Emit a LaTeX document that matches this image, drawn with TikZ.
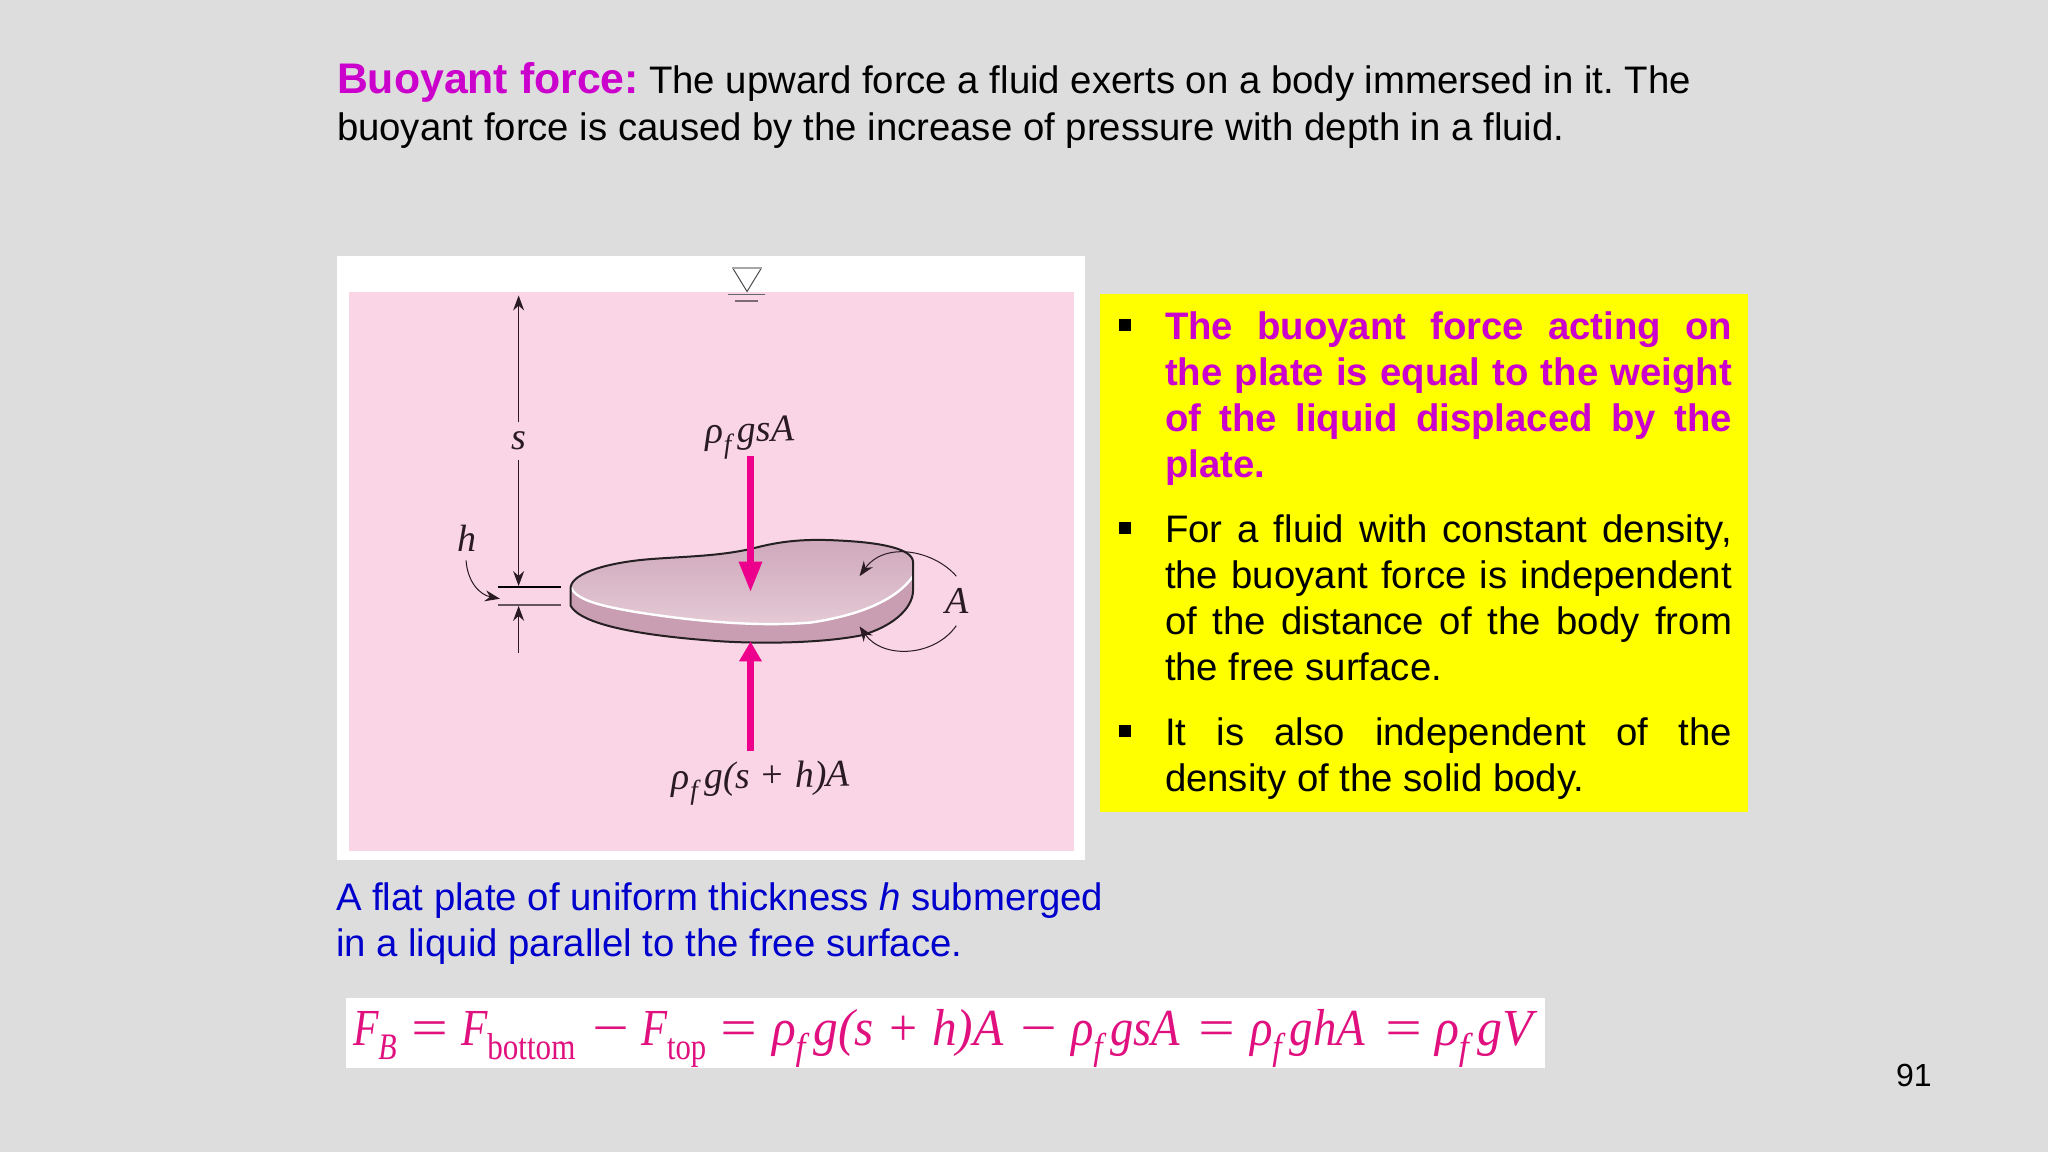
\documentclass[tikz,border=0pt]{standalone}
\usepackage{fontspec}
\usepackage{graphicx}
\setmainfont{Liberation Sans}
\newfontfamily\ser{Liberation Serif}
\usetikzlibrary{arrows.meta}
\frenchspacing
\definecolor{bg}{HTML}{DDDDDD}
\definecolor{tank}{HTML}{F9D5E5}
\definecolor{mag}{HTML}{CC00CC}
\definecolor{blu}{HTML}{0000CC}
\definecolor{yel}{HTML}{FFFF00}
\definecolor{hot}{HTML}{EC008C}
\definecolor{eqc}{HTML}{E0107F}
\definecolor{ink}{HTML}{2A1A22}
\definecolor{platetop}{HTML}{CFA9BC}
\definecolor{platelow}{HTML}{E6CBD6}
\definecolor{plateside}{HTML}{C99DB2}
\newcommand{\bodyfont}{\fontsize{19.17pt}{23pt}\selectfont}
\newcommand{\lowidx}[1]{\raisebox{-.28em}{\scalebox{.72}{#1}}}
\newcommand{\jline}{\linebreak[4]}
\newcommand{\eqbit}[2]{\scalebox{#1}[1]{\ser\itshape\fontsize{26pt}{26pt}\selectfont #2}}
\tikzset{
  txt/.style={anchor=base west,inner sep=0pt,outer sep=0pt},
  lab/.style={inner sep=0pt,outer sep=0pt,text=ink,font=\ser\itshape\fontsize{19pt}{19pt}\selectfont},
  thin dim/.style={draw=ink,line width=.5pt},
  tipk/.style={-{Stealth[length=7.5pt,width=5.5pt]}},
  forcedown/.style={draw=hot,line width=3.5pt,-{Triangle[length=15.4pt,width=10.8pt]}},
  forceup/.style={draw=hot,line width=3.5pt,-{Triangle[length=10pt,width=10.8pt]}},
  bul/.style={fill=black,minimum size=6pt,inner sep=0pt,outer sep=0pt,anchor=center},
  para/.style={txt,font=\bodyfont},
  eqp/.style={txt,text=eqc},
}
\begin{document}
\begin{tikzpicture}[x=.5pt,y=-.5pt]
\useasboundingbox (0,0) rectangle (2048,1152);
\fill[bg] (0,0) rectangle (2048,1152);

% heading
\node[txt,font=\fontsize{21.4pt}{25pt}\selectfont\bfseries,text=mag] (head) at (337,93) {Buoyant force:};
\node[txt,font=\bodyfont] (headb) at (649,93) {The upward force a fluid exerts on a body immersed in it. The};
\node[txt,font=\bodyfont] (headc) at (337,140) {buoyant force is caused by the increase of pressure with depth in a fluid.};

% picture panel
\fill[white] (337.4,256) rectangle (1085,860);
\begin{scope}[shift={(330,250)},x=.2456pt,y=-.1977pt]
  \fill[tank] (39,106) rectangle (1515,1519);
  % free surface symbol
  \fill[white] (820,45) -- (878,45) -- (849,105) -- cycle;
  \draw[black!70,line width=.5pt] (820,46) -- (849,105) -- (878,46);
  \draw[black!35,line width=1.1pt] (818,45) -- (880,45);
  \draw[black!60,line width=.6pt] (810,112) -- (886,112);
  \draw[black!50!tank,line width=.9pt] (824,128) -- (872,128);
  % plate
  \coordinate (pL) at (490,852);
  \coordinate (pR) at (1187,790);
  \fill[plateside] (pL) -- (490,900) .. controls (510,945) and (620,975) .. (800,990)
     .. controls (900,997) and (1010,992) .. (1080,975)
     .. controls (1140,955) and (1187,910) .. (1187,860) -- (pR) -- cycle;
  \shade[top color=platetop,bottom color=platelow,middle color=platetop!55!platelow]
     (pL) .. controls (495,815) and (570,790) .. (650,782)
     .. controls (720,775) and (790,775) .. (860,755)
     .. controls (920,735) and (970,730) .. (1040,735)
     .. controls (1120,740) and (1187,755) .. (pR)
     -- (1187,825)
     .. controls (1150,890) and (1070,925) .. (980,942)
     .. controls (860,955) and (720,935) .. (620,915)
     .. controls (550,900) and (500,885) .. (pL) -- cycle;
  \draw[white,line width=1.2pt] (pL) .. controls (500,885) and (550,900) .. (620,915)
     .. controls (720,935) and (860,955) .. (980,942)
     .. controls (1070,925) and (1150,890) .. (1187,825);
  \draw[black!85!tank,line width=1pt,line join=round]
     (pL) .. controls (495,815) and (570,790) .. (650,782)
     .. controls (720,775) and (790,775) .. (860,755)
     .. controls (920,735) and (970,730) .. (1040,735)
     .. controls (1120,740) and (1187,755) .. (pR)
     -- (1187,860) .. controls (1187,910) and (1140,955) .. (1080,975)
     .. controls (1010,992) and (900,997) .. (800,990)
     .. controls (620,975) and (510,945) .. (490,900) -- cycle;

  % dimension lines
  \coordinate (sT) at (384,115);
  \coordinate (sU) at (384,435);
  \coordinate (sD) at (384,530);
  \coordinate (sB) at (384,850);
  \coordinate (hU) at (384,1018);
  \coordinate (hB) at (384,900);
  \draw[thin dim,tipk] (sU) -- (sT);
  \draw[thin dim,tipk] (sD) -- (sB);
  \draw[thin dim,tipk] (hU) -- (hB);
  \coordinate (l1a) at (342,853); \coordinate (l1b) at (471,853);
  \coordinate (l2a) at (342,897); \coordinate (l2b) at (471,897);
  \draw[black,line width=.8pt] (l1a) -- (l1b);
  \draw[black!60!tank,line width=.9pt] (l2a) -- (l2b);
  \node[lab] (lbs) at (384,482) {s};
  \node[lab] (lbh) at (279,730) {h};
  \node[lab] (lbA) at (1276,888) {A};
  \coordinate (hc) at (277,785); \coordinate (he) at (346,882);
  \draw[thin dim,tipk] (hc) .. controls (280,840) and (305,872) .. (he);
  \coordinate (a1) at (1275,825); \coordinate (a1e) at (1078,825);
  \draw[thin dim,tipk] (a1) .. controls (1230,760) and (1130,735) .. (a1e);
  \coordinate (a2) at (1275,950); \coordinate (a2e) at (1078,952);
  \draw[thin dim,tipk] (a2) .. controls (1230,1030) and (1125,1035) .. (a2e);

  % forces
  \coordinate (f1s) at (856,521); \coordinate (f1e) at (856,866);
  \coordinate (f2s) at (856,1266); \coordinate (f2e) at (856,990);
  \draw[forcedown] (f1s) -- (f1e);
  \draw[forceup] (f2s) -- (f2e);
  \node[lab,rotate=2] (lf1) at (855,475) {ρ\lowidx{f}\,gsA};
  \node[lab,rotate=1] (lf2) at (877,1348) {ρ\lowidx{f}\,g(s + h)A};
\end{scope}

% caption
\node[para,text=blu] (cap1) at (336,910) {A flat plate of uniform thickness \textit{h} submerged};
\node[para,text=blu] (cap2) at (336,956) {in a liquid parallel to the free surface.};

% yellow box
\fill[yel] (1100,294) rectangle (1748,812);
\node[bul] (b1) at (1125,325) {};
\node[bul] (b2) at (1125,528) {};
\node[bul] (b3) at (1125,731) {};
\node[para,text=mag] (p1) at (1165,339) {\parbox[t]{283.5pt}{\bfseries\bodyfont The buoyant force acting on\jline the plate is equal to the weight\jline of the liquid displaced by the\jline plate.}};
\node[para] (p2) at (1165,542) {\parbox[t]{283.5pt}{\bodyfont For a fluid with constant density,\jline the buoyant force is independent\jline of the distance of the body from\jline the free surface.}};
\node[para] (p3) at (1165,745) {\parbox[t]{283.5pt}{\bodyfont It is also independent of the\jline density of the solid body.}};

% equation
\fill[white] (346,998) rectangle (1545,1068);
\node[eqp] (e1) at (353,1045) {\eqbit{.8}{F\lowidx{B}}};
\node[eqp] (e2) at (407,1045) {\eqbit{1.25}{=}};
\node[eqp] (e3) at (461,1045) {\eqbit{.83}{F\lowidx{\upshape bottom}}};
\node[eqp] (e4) at (588,1045) {\eqbit{1.25}{−}};
\node[eqp] (e5) at (641,1045) {\eqbit{.82}{F\lowidx{\upshape top}}};
\node[eqp] (e6) at (716,1045) {\eqbit{1.25}{=}};
\node[eqp] (e7) at (772,1045) {\eqbit{.95}{ρ\lowidx{f}\,g(s + h)A}};
\node[eqp] (e8) at (1016,1045) {\eqbit{1.25}{−}};
\node[eqp] (e9) at (1071,1045) {\eqbit{.895}{ρ\lowidx{f}\,gsA}};
\node[eqp] (e10) at (1194,1045) {\eqbit{1.25}{=}};
\node[eqp] (e11) at (1250,1045) {\eqbit{.9}{ρ\lowidx{f}\,ghA}};
\node[eqp] (e12) at (1381,1045) {\eqbit{1.25}{=}};
\node[eqp] (e13) at (1435,1045) {\eqbit{.96}{ρ\lowidx{f}\,gV}};

% page number
\node[txt,font=\fontsize{16pt}{18pt}\selectfont] (pg) at (1896,1086) {91};
\end{tikzpicture}
\end{document}
